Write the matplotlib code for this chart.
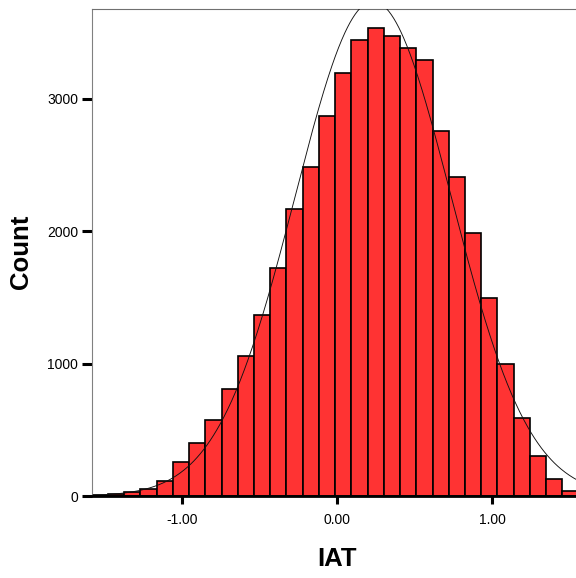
import numpy as np
import matplotlib.pyplot as plt

plt.rcParams['font.family'] = ['Liberation Sans', 'DejaVu Sans']

# Histogram of IAT scores (SPSS style): bin edges start + equal width
bin_start = -1.585
bin_width = 0.1048
counts = [5, 12, 32, 50, 116, 257, 398, 574, 806, 1060,
          1368, 1725, 2169, 2489, 2874, 3194, 3446, 3534, 3476, 3383,
          3295, 2761, 2413, 1990, 1494, 995, 587, 302, 126, 38]

# fitted normal curve parameters
iat_mean = 0.232
iat_sd = 0.503

x_ticks = [-1.0, 0.0, 1.0]
x_ticklabels = ['-1.00', '0.00', '1.00']
y_ticks = [0, 1000, 2000, 3000]

counts = np.array(counts)
lefts = bin_start + bin_width * np.arange(len(counts))

fig = plt.figure(figsize=(5.76, 5.78), dpi=100)
ax = fig.add_axes([92 / 576, 1 - 496 / 578, (578 - 92) / 576, (496 - 9) / 578])

ax.bar(lefts, counts, width=bin_width, align='edge',
       color='#ff3333', edgecolor='black', linewidth=1.2, zorder=2)

# normal curve scaled to counts
xs = np.linspace(-1.6, 1.6, 600)
n_total = counts.sum()
ys = n_total * bin_width / (iat_sd * np.sqrt(2 * np.pi)) * np.exp(-0.5 * ((xs - iat_mean) / iat_sd) ** 2)
ax.plot(xs, ys, color='#111111', linewidth=0.65, zorder=3)

ax.set_xlim(-1.583, 1.555)
ax.set_ylim(0, 3680)

ax.set_xticks(x_ticks)
ax.set_xticklabels(x_ticklabels)
ax.set_yticks(y_ticks)
ax.set_yticklabels([str(v) for v in y_ticks])
ax.tick_params(axis='x', length=5.8, width=2.2, pad=6.5, labelsize=10, color='black')
ax.tick_params(axis='y', length=7.2, width=2.2, pad=2.7, labelsize=10, color='black')

ax.spines['right'].set_visible(False)
ax.spines['top'].set_color('#707070')
ax.spines['top'].set_linewidth(0.8)
ax.spines['left'].set_color('#808080')
ax.spines['left'].set_linewidth(0.8)
ax.spines['bottom'].set_color('black')
ax.spines['bottom'].set_linewidth(2.0)
ax.spines['bottom'].set_zorder(4)

fig.text(337 / 576, 1 - 559 / 578, 'IAT', fontsize=18.5, fontweight='bold',
         ha='center', va='center')
fig.text(21 / 576, 1 - 252 / 578, 'Count', fontsize=18.5, fontweight='bold',
         ha='center', va='center', rotation=90)

fig.savefig('out.png', dpi=100)
